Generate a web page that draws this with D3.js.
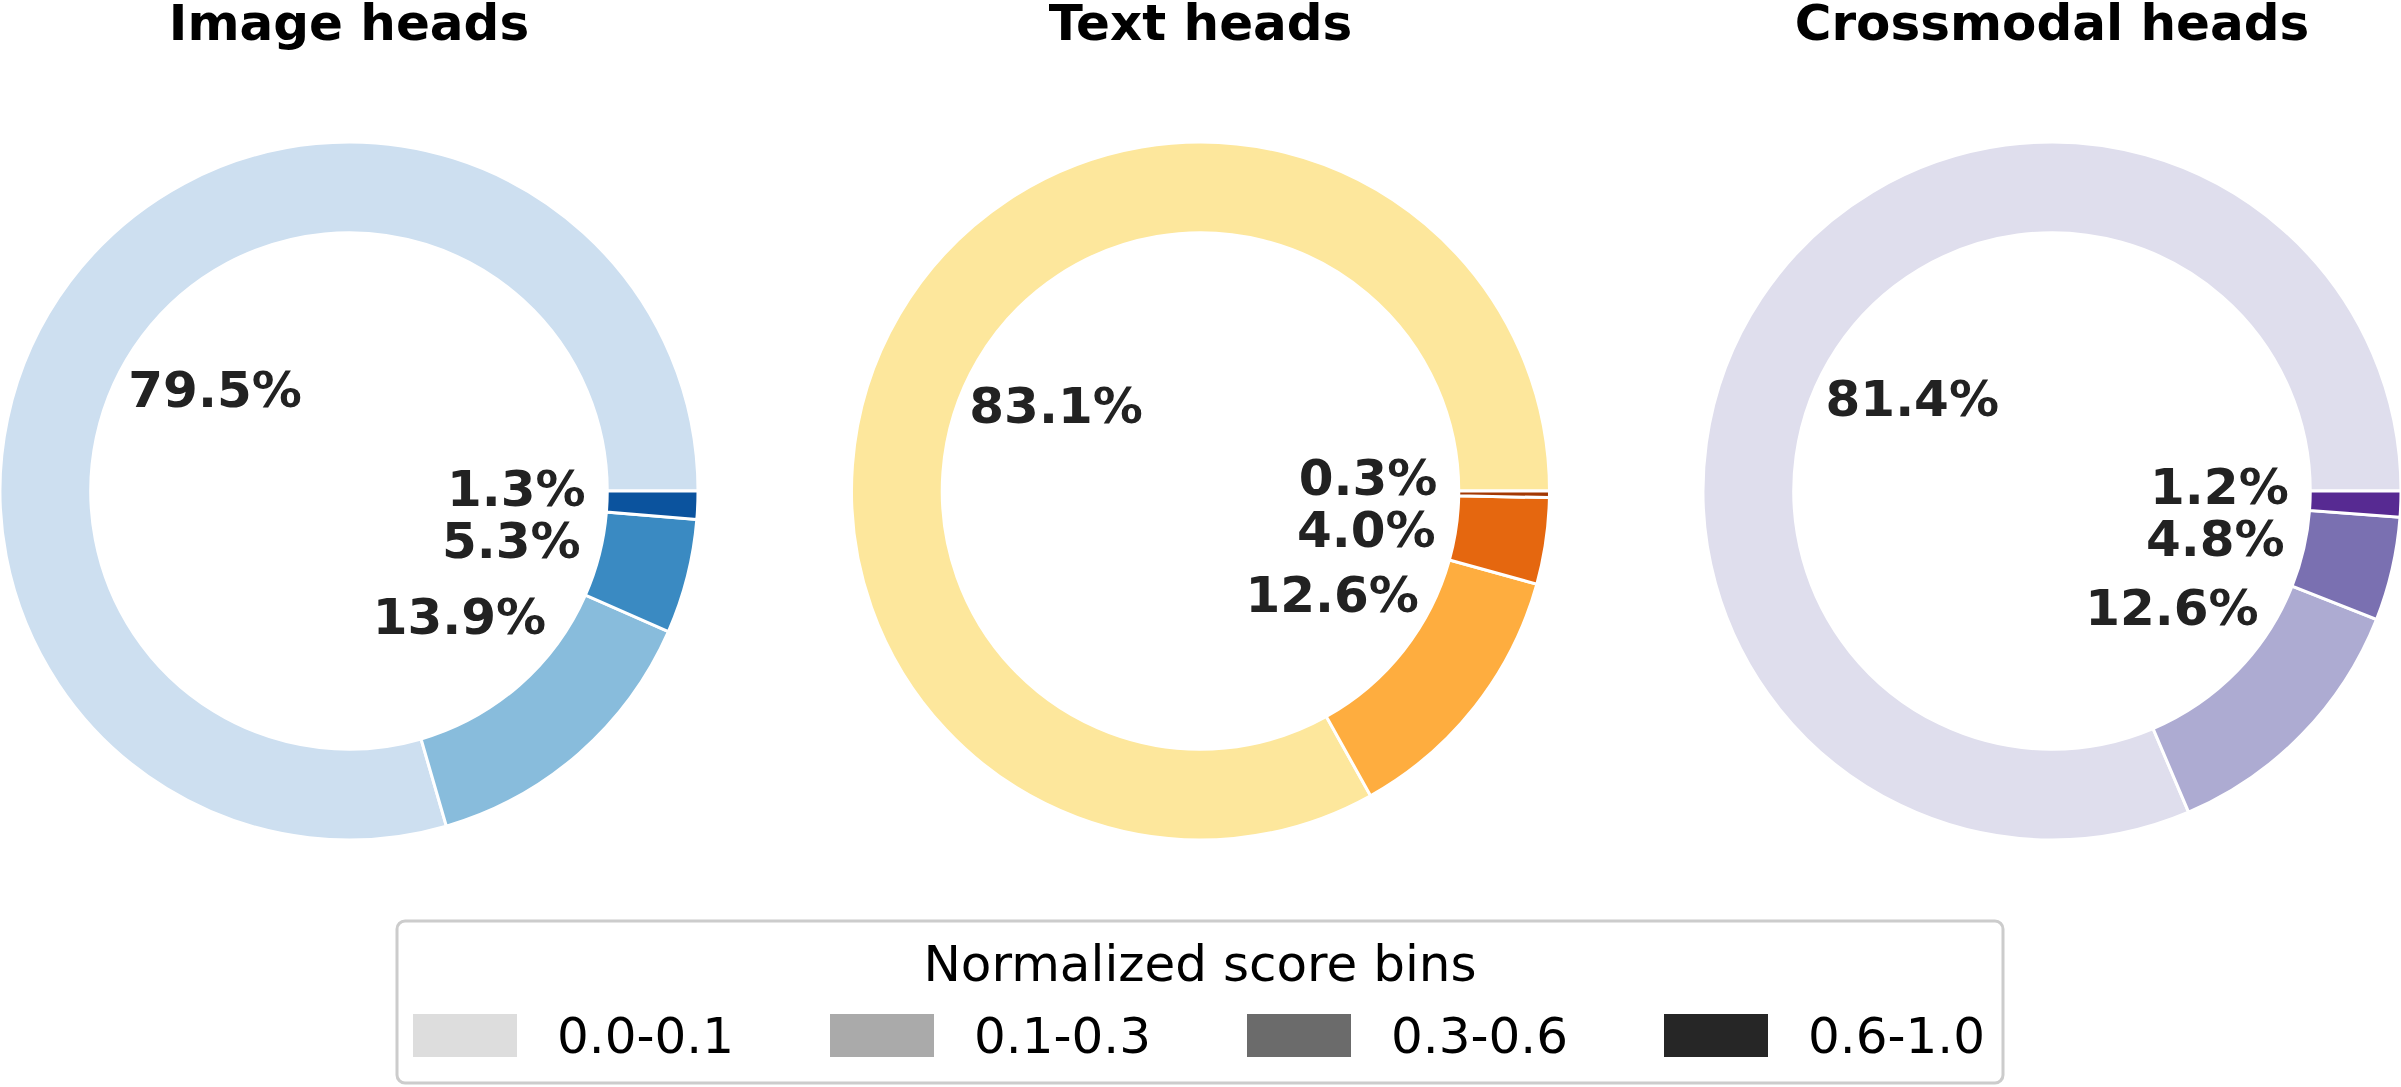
<!DOCTYPE html>
<html>
<head>
<meta charset="utf-8">
<script src="https://cdn.jsdelivr.net/npm/d3@7"></script>
<style>
  body { margin: 0; background: #fff; }
  svg { display: block; font-family: "DejaVu Sans", sans-serif; }
</style>
</head>
<body>
<svg id="chart"></svg>
<script>
var width = 2401;
var height = 1087;

// score bins, shared by all three donuts
var bins = ["0.0-0.1", "0.1-0.3", "0.3-0.6", "0.6-1.0"];
var titles = ["Image heads", "Text heads", "Crossmodal heads"];

// percent of heads per bin
var imageShares = [79.5, 13.9, 5.3, 1.3];
var textShares = [83.1, 12.6, 4.0, 0.3];
var crossShares = [81.4, 12.6, 4.8, 1.2];

var blues = ["#cddff0", "#88bcdc", "#3a8ac2", "#0b539e"];
var oranges = ["#fde79c", "#fead3f", "#e5670f", "#a33803"];
var purples = ["#dfdeed", "#adabd2", "#7a70b1", "#572a92"];
var legendGreys = ["#dddddd", "#aaaaaa", "#6b6b6b", "#262626"];

var panels = [
  { title: titles[0], values: imageShares, colors: blues },
  { title: titles[1], values: textShares, colors: oranges },
  { title: titles[2], values: crossShares, colors: purples }
];

var svg = d3.select("#chart")
    .attr("width", width)
    .attr("height", height);

var outerR = 349;
var innerR = outerR * 0.74;
var labelR = outerR * 0.48;
var cy = 491;
var minGap = 52; // min vertical distance between two pct labels

var xPos = d3.scalePoint()
    .domain(titles)
    .range([349, 2052]);

// matplotlib style: start at 3 o'clock, go counter clockwise
var pie = d3.pie()
    .sort(null)
    .value(function (d) { return d; })
    .startAngle(Math.PI / 2)
    .endAngle(Math.PI / 2 - 2 * Math.PI);

var arc = d3.arc().innerRadius(innerR).outerRadius(outerR);
var labelArc = d3.arc().innerRadius(labelR).outerRadius(labelR);

// push crowded labels apart vertically
function spreadLabels(pos) {
  for (var iter = 0; iter < 20; iter++) {
    var sorted = pos.slice().sort(function (a, b) { return a.y - b.y; });
    var moved = false;
    for (var i = 0; i < sorted.length - 1; i++) {
      var a = sorted[i], b = sorted[i + 1];
      if (Math.abs(a.x - b.x) > 250) continue;
      var gap = b.y - a.y;
      if (gap < minGap) {
        var half = (minGap - gap) / 2;
        a.y -= half;
        b.y += half;
        moved = true;
      }
    }
    if (!moved) break;
  }
  return pos;
}

panels.forEach(function (p) {
  var cx = xPos(p.title);

  svg.append("text")
      .attr("x", cx)
      .attr("y", 40)
      .attr("text-anchor", "middle")
      .style("font-size", "50px")
      .style("font-weight", "bold")
      .style("fill", "#000")
      .text(p.title);

  var g = svg.append("g")
      .attr("transform", "translate(" + cx + "," + cy + ")");

  var arcs = pie(p.values);

  g.selectAll("path")
      .data(arcs)
      .enter()
      .append("path")
      .attr("d", arc)
      .style("fill", function (d, i) { return p.colors[i]; })
      .attr("stroke", "#ffffff")
      .attr("stroke-width", 3);

  var pos = spreadLabels(arcs.map(function (d) {
    var c = labelArc.centroid(d);
    return { x: c[0], y: c[1], v: d.data };
  }));

  g.selectAll("text")
      .data(pos)
      .enter()
      .append("text")
      .attr("x", function (d) { return d.x; })
      .attr("y", function (d) { return d.y; })
      .attr("text-anchor", "middle")
      .attr("dominant-baseline", "central")
      .style("font-size", "50px")
      .style("font-weight", "bold")
      .style("fill", "#222222")
      .text(function (d) { return d.v.toFixed(1) + "%"; });
});

// legend
var legend = svg.append("g");

legend.append("rect")
    .attr("x", 397)
    .attr("y", 921)
    .attr("width", 1606)
    .attr("height", 162)
    .attr("rx", 8)
    .style("fill", "#fff")
    .attr("stroke", "#cccccc")
    .attr("stroke-width", 3);

legend.append("text")
    .attr("x", 1200)
    .attr("y", 981)
    .attr("text-anchor", "middle")
    .style("font-size", "50px")
    .style("fill", "#000")
    .text("Normalized score bins");

var legendX = d3.scaleBand()
    .domain(bins)
    .range([413, 413 + 4 * 417]);

var item = legend.selectAll("g.item")
    .data(bins)
    .enter()
    .append("g")
    .attr("class", "item")
    .attr("transform", function (d) { return "translate(" + legendX(d) + ",0)"; });

item.append("rect")
    .attr("x", 0)
    .attr("y", 1014)
    .attr("width", 104)
    .attr("height", 43)
    .style("fill", function (d, i) { return legendGreys[i]; });

item.append("text")
    .attr("x", 144)
    .attr("y", 1036)
    .attr("dominant-baseline", "central")
    .style("font-size", "50px")
    .style("fill", "#000")
    .text(function (d) { return d; });
</script>
</body>
</html>
